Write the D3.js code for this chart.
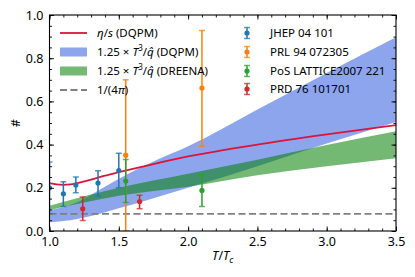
<!DOCTYPE html>
<html><head><meta charset="utf-8">
<script src="https://cdn.jsdelivr.net/npm/d3@7"></script>
<style>
body{margin:0;background:#fff;}
text{font-family:"Noto Sans",sans-serif;fill:#000;}
</style></head>
<body><svg id="c" width="415" height="277"></svg>
<script>
// ---------- data ----------
const xTicks = [1.0, 1.5, 2.0, 2.5, 3.0, 3.5];
const yTicks = [0.0, 0.2, 0.4, 0.6, 0.8, 1.0];

// eta/s (DQPM)
const etaT = [1.0, 1.05, 1.1, 1.15, 1.2, 1.3, 1.4, 1.5, 1.75, 2.0, 2.5, 3.0, 3.5];
const etaV = [0.222, 0.216, 0.214, 0.216, 0.222, 0.238, 0.256, 0.272, 0.31, 0.345, 0.40, 0.447, 0.49];

// 1.25 T^3/qhat (DQPM) band
const dqpmT = [1.0, 1.1, 1.2, 1.3, 1.4, 1.5, 1.75, 2.0, 2.5, 3.0, 3.5];
const dqpmLo = [0.040, 0.046, 0.056, 0.070, 0.087, 0.105, 0.152, 0.200, 0.300, 0.405, 0.505];
const dqpmHi = [0.097, 0.110, 0.133, 0.168, 0.205, 0.242, 0.322, 0.392, 0.562, 0.732, 0.897];

// 1.25 T^3/qhat (DREENA) band
const dreT = [1.0, 1.5, 2.0, 2.5, 3.0, 3.5];
const dreLo = [0.097, 0.163, 0.205, 0.258, 0.300, 0.337];
const dreHi = [0.117, 0.200, 0.265, 0.330, 0.398, 0.462];

const kss = 1 / (4 * Math.PI);

// lattice data: [T, value, lower, upper]
const jhep = [[1.0, 0.20, 0.08, 0.32], [1.1, 0.172, 0.113, 0.228], [1.19, 0.213, 0.177, 0.25],
              [1.35, 0.222, 0.162, 0.279], [1.5, 0.28, 0.20, 0.36]];
const prl = [[1.55, 0.351, 0.0, 0.70], [2.1, 0.662, 0.392, 0.928]];
const pos = [[1.55, 0.231, 0.132, 0.331], [2.1, 0.188, 0.114, 0.262]];
const prd = [[1.24, 0.103, 0.049, 0.157], [1.65, 0.136, 0.103, 0.166]];

const dataSets = [
  {name: "JHEP 04 101", color: "#1f77b4", pts: jhep},
  {name: "PRL 94 072305", color: "#ff7f0e", pts: prl},
  {name: "PoS LATTICE2007 221", color: "#2ca02c", pts: pos},
  {name: "PRD 76 101701", color: "#d62728", pts: prd}
];

// ---------- layout ----------
const svg = d3.select("#c");
const m = {l: 49.5, r: 19, t: 15, b: 46};
const W = 415 - m.l - m.r, H = 277 - m.t - m.b;
const x = d3.scaleLinear().domain([1.0, 3.5]).range([m.l, m.l + W]);
const y = d3.scaleLinear().domain([0, 1]).range([m.t + H, m.t]);

svg.append("defs").append("clipPath").attr("id", "clip")
  .append("rect").attr("x", m.l).attr("y", m.t).attr("width", W).attr("height", H);
const plot = svg.append("g").attr("clip-path", "url(#clip)");

const area = (T, lo, hi) => d3.area().x((d, i) => x(T[i])).y0((d, i) => y(lo[i])).y1((d, i) => y(hi[i]))
  .curve(d3.curveMonotoneX)(T);

plot.append("path").attr("d", area(dqpmT, dqpmLo, dqpmHi)).attr("fill", "royalblue").attr("fill-opacity", 0.6);
plot.append("path").attr("d", area(dreT, dreLo, dreHi)).attr("fill", "green").attr("fill-opacity", 0.55);

plot.append("path").datum(etaT)
  .attr("d", d3.line().x(d => x(d)).y((d, i) => y(etaV[i])).curve(d3.curveMonotoneX))
  .attr("fill", "none").attr("stroke", "crimson").attr("stroke-width", 1.8);

plot.append("line").attr("x1", x(1.0)).attr("x2", x(3.5)).attr("y1", y(kss)).attr("y2", y(kss))
  .attr("stroke", "#808080").attr("stroke-width", 1.8).attr("stroke-dasharray", "7,3.5");

function errbar(g, cx, cv, lo, hi, color) {
  const cap = 3;
  g.append("line").attr("x1", cx).attr("x2", cx).attr("y1", lo).attr("y2", hi)
    .attr("stroke", color).attr("stroke-width", 1.5);
  [lo, hi].forEach(yy => g.append("line").attr("x1", cx - cap).attr("x2", cx + cap).attr("y1", yy).attr("y2", yy)
    .attr("stroke", color).attr("stroke-width", 1.5).attr("stroke-opacity", 0.75));
  g.append("circle").attr("cx", cx).attr("cy", cv).attr("r", 2.6).attr("fill", color);
}
dataSets.forEach(ds => {
  ds.pts.forEach(p => errbar(plot, x(p[0]), y(p[1]), y(p[2]), y(p[3]), ds.color));
});

// ---------- axes ----------
const minorX = d3.range(1.0, 3.5001, 0.1);
const minorY = d3.range(0, 1.0001, 0.05);
function addAxis(gen, tr, vals, size, labels) {
  const a = gen.tickValues(vals).tickSize(-size).tickPadding(labels ? 6 : 0)
    .tickFormat(labels ? d3.format(".1f") : () => "");
  const g = svg.append("g").attr("transform", tr).call(a);
  g.select(".domain").remove();
  g.selectAll(".tick line").attr("stroke", "#000").attr("stroke-width", 0.9);
  g.selectAll("text").style("font-size", "12.5px");
  return g;
}
addAxis(d3.axisBottom(x), `translate(0,${m.t + H})`, xTicks, 4.5, true);
addAxis(d3.axisBottom(x), `translate(0,${m.t + H})`, minorX, 2.5, false);
addAxis(d3.axisTop(x), `translate(0,${m.t})`, xTicks, 4.5, false);
addAxis(d3.axisTop(x), `translate(0,${m.t})`, minorX, 2.5, false);
addAxis(d3.axisLeft(y), `translate(${m.l},0)`, yTicks, 4.5, true);
addAxis(d3.axisLeft(y), `translate(${m.l},0)`, minorY, 2.5, false);
addAxis(d3.axisRight(y), `translate(${m.l + W},0)`, yTicks, 4.5, false);
addAxis(d3.axisRight(y), `translate(${m.l + W},0)`, minorY, 2.5, false);

svg.append("rect").attr("x", m.l).attr("y", m.t).attr("width", W).attr("height", H)
  .attr("fill", "none").attr("stroke", "#000").attr("stroke-width", 1.1);

// axis labels
const xl = svg.append("text").attr("x", m.l + W / 2).attr("y", 260).attr("text-anchor", "middle").style("font-size", "12.5px");
xl.append("tspan").text("T").style("font-style", "italic");
xl.append("tspan").text("/");
xl.append("tspan").text("T").style("font-style", "italic");
xl.append("tspan").text("c").style("font-style", "italic").style("font-size", "9px").attr("dy", 3);

svg.append("text").attr("transform", `translate(20,${m.t + H / 2}) rotate(-90)`).attr("text-anchor", "middle")
  .style("font-size", "12px").text("#");

// ---------- legends ----------
const lg = svg.append("g").style("font-size", "11.5px");
const rows = [33, 52, 71, 90];
const hx0 = 60, hx1 = 87, tx = 97;
lg.append("line").attr("x1", hx0).attr("x2", hx1).attr("y1", rows[0]).attr("y2", rows[0])
  .attr("stroke", "crimson").attr("stroke-width", 1.8);
lg.append("rect").attr("x", hx0).attr("y", rows[1] - 4.5).attr("width", hx1 - hx0).attr("height", 9)
  .attr("fill", "royalblue").attr("fill-opacity", 0.6);
lg.append("rect").attr("x", hx0).attr("y", rows[2] - 4.5).attr("width", hx1 - hx0).attr("height", 9)
  .attr("fill", "green").attr("fill-opacity", 0.55);
lg.append("line").attr("x1", hx0).attr("x2", hx1).attr("y1", rows[3]).attr("y2", rows[3])
  .attr("stroke", "#808080").attr("stroke-width", 1.8).attr("stroke-dasharray", "7,3.5");

let t = lg.append("text").attr("x", tx).attr("y", rows[0] + 4);
t.append("tspan").text("η").style("font-style", "italic");
t.append("tspan").text("/");
t.append("tspan").text("s").style("font-style", "italic");
t.append("tspan").text(" (DQPM)");
function qLabel(row, suffix) {
  const tt = lg.append("text").attr("x", tx).attr("y", row + 4);
  tt.append("tspan").text("1.25 × ");
  tt.append("tspan").text("T").style("font-style", "italic");
  tt.append("tspan").text("3").style("font-size", "8px").attr("dy", -5);
  tt.append("tspan").text("/").attr("dy", 5);
  tt.append("tspan").text("q\u0302").style("font-style", "italic");
  tt.append("tspan").text(" (" + suffix + ")");
}
qLabel(rows[1], "DQPM");
qLabel(rows[2], "DREENA");
t = lg.append("text").attr("x", tx).attr("y", rows[3] + 4);
t.append("tspan").text("1/(4");
t.append("tspan").text("π").style("font-style", "italic");
t.append("tspan").text(")");

const rg = svg.append("g").style("font-size", "11.5px");
const rRows = [33, 52, 71, 89];
dataSets.forEach((ds, i) => {
  errbar(rg, 247, rRows[i], rRows[i] + 5.5, rRows[i] - 5.5, ds.color);
  rg.append("text").attr("x", 270).attr("y", rRows[i] + 4).text(ds.name);
});
</script></body></html>
